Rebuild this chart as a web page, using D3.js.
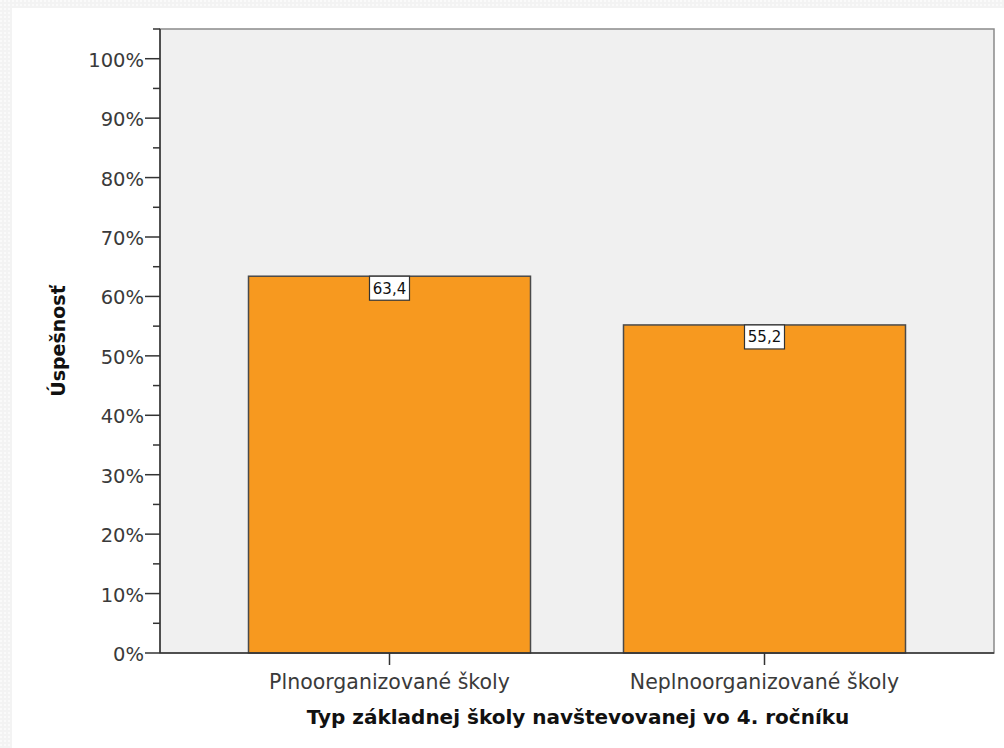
<!DOCTYPE html>
<html><head><meta charset="utf-8">
<script src="https://cdn.jsdelivr.net/npm/d3@7"></script>
<style>body{margin:0;background:#fff}svg{display:block}</style>
</head><body>
<svg id="c" width="1004" height="748"></svg>
<script>
const categories = ["Plnoorganizované školy", "Neplnoorganizované školy"];
const values = [63.4, 55.2];
const valueLabels = ["63,4", "55,2"];
const majorTicks = [0,10,20,30,40,50,60,70,80,90,100];
const minorTicks = [5,15,25,35,45,55,65,75,85,95,105];
const xTitle = "Typ základnej školy navštevovanej vo 4. ročníku";
const yTitle = "Úspešnosť";

const svg = d3.select("#c");
const font = "'DejaVu Sans', sans-serif";

// page border pattern
const defs = svg.append("defs");
const pat = defs.append("pattern").attr("id","dots").attr("width",4).attr("height",4).attr("patternUnits","userSpaceOnUse");
pat.append("rect").attr("width",4).attr("height",4).attr("fill","#f3f3f3");
pat.append("rect").attr("width",2).attr("height",2).attr("fill","#fafafa");
svg.append("rect").attr("x",0).attr("y",0).attr("width",1004).attr("height",8).attr("fill","url(#dots)");
svg.append("rect").attr("x",0).attr("y",0).attr("width",12).attr("height",748).attr("fill","url(#dots)");

const L = 160, T = 29, R = 994, B = 653;
const y = d3.scaleLinear().domain([0,105]).range([B,T]);
const x = d3.scaleBand().domain(categories).range([L,R]).paddingInner(0.248).paddingOuter(0.236);

svg.append("rect").attr("x",L).attr("y",T).attr("width",R-L).attr("height",B-T)
  .attr("fill","#f0f0f0").attr("stroke","#8a8a8a").attr("stroke-width",1.5);

// bars
svg.selectAll(".bar").data(values).enter().append("rect")
  .attr("x",(d,i)=>x(categories[i])).attr("y",d=>y(d))
  .attr("width",x.bandwidth()).attr("height",d=>B-y(d))
  .attr("fill","#f7991f").attr("stroke","#4a4a4a").attr("stroke-width",1.5);

// value labels
values.forEach((v,i)=>{
  const cx = x(categories[i]) + x.bandwidth()/2;
  const g = svg.append("g");
  g.append("rect").attr("x",cx-20).attr("y",y(v)).attr("width",40).attr("height",24)
    .attr("fill","#fff").attr("stroke","#333").attr("stroke-width",1.2);
  g.append("text").attr("x",cx).attr("y",y(v)+17.5).attr("text-anchor","middle")
    .attr("font-family",font).attr("font-size",15).attr("fill","#111").text(valueLabels[i]);
});

// y axis
svg.append("line").attr("x1",L).attr("x2",L).attr("y1",T).attr("y2",B).attr("stroke","#333").attr("stroke-width",1.5);
svg.selectAll(".maj").data(majorTicks).enter().append("line")
  .attr("x1",L-15).attr("x2",L).attr("y1",d=>y(d)).attr("y2",d=>y(d)).attr("stroke","#333").attr("stroke-width",1.5);
svg.selectAll(".min").data(minorTicks).enter().append("line")
  .attr("x1",L-7).attr("x2",L).attr("y1",d=>y(d)).attr("y2",d=>y(d)).attr("stroke","#333").attr("stroke-width",1.5);
svg.selectAll(".yl").data(majorTicks).enter().append("text")
  .attr("x",L-16).attr("y",d=>y(d)+8).attr("text-anchor","end")
  .attr("font-family",font).attr("font-size",19.5).attr("fill","#3a3a3a").text(d=>d+"%");

// x axis
svg.append("line").attr("x1",L).attr("x2",R).attr("y1",B).attr("y2",B).attr("stroke","#333").attr("stroke-width",1.5);
categories.forEach(c=>{
  const cx = x(c)+x.bandwidth()/2;
  svg.append("line").attr("x1",cx).attr("x2",cx).attr("y1",B).attr("y2",B+12).attr("stroke","#333").attr("stroke-width",1.5);
  svg.append("text").attr("x",cx).attr("y",689).attr("text-anchor","middle")
    .attr("font-family",font).attr("font-size",20.5).attr("fill","#3a3a3a").text(c);
});

svg.append("text").attr("x",578).attr("y",724).attr("text-anchor","middle")
  .attr("font-family",font).attr("font-weight","bold").attr("font-size",20).attr("fill","#111").text(xTitle);
svg.append("text").attr("transform",`translate(65,341) rotate(-90)`).attr("text-anchor","middle")
  .attr("font-family",font).attr("font-weight","bold").attr("font-size",19).attr("fill","#111").text(yTitle);
</script>
</body></html>
